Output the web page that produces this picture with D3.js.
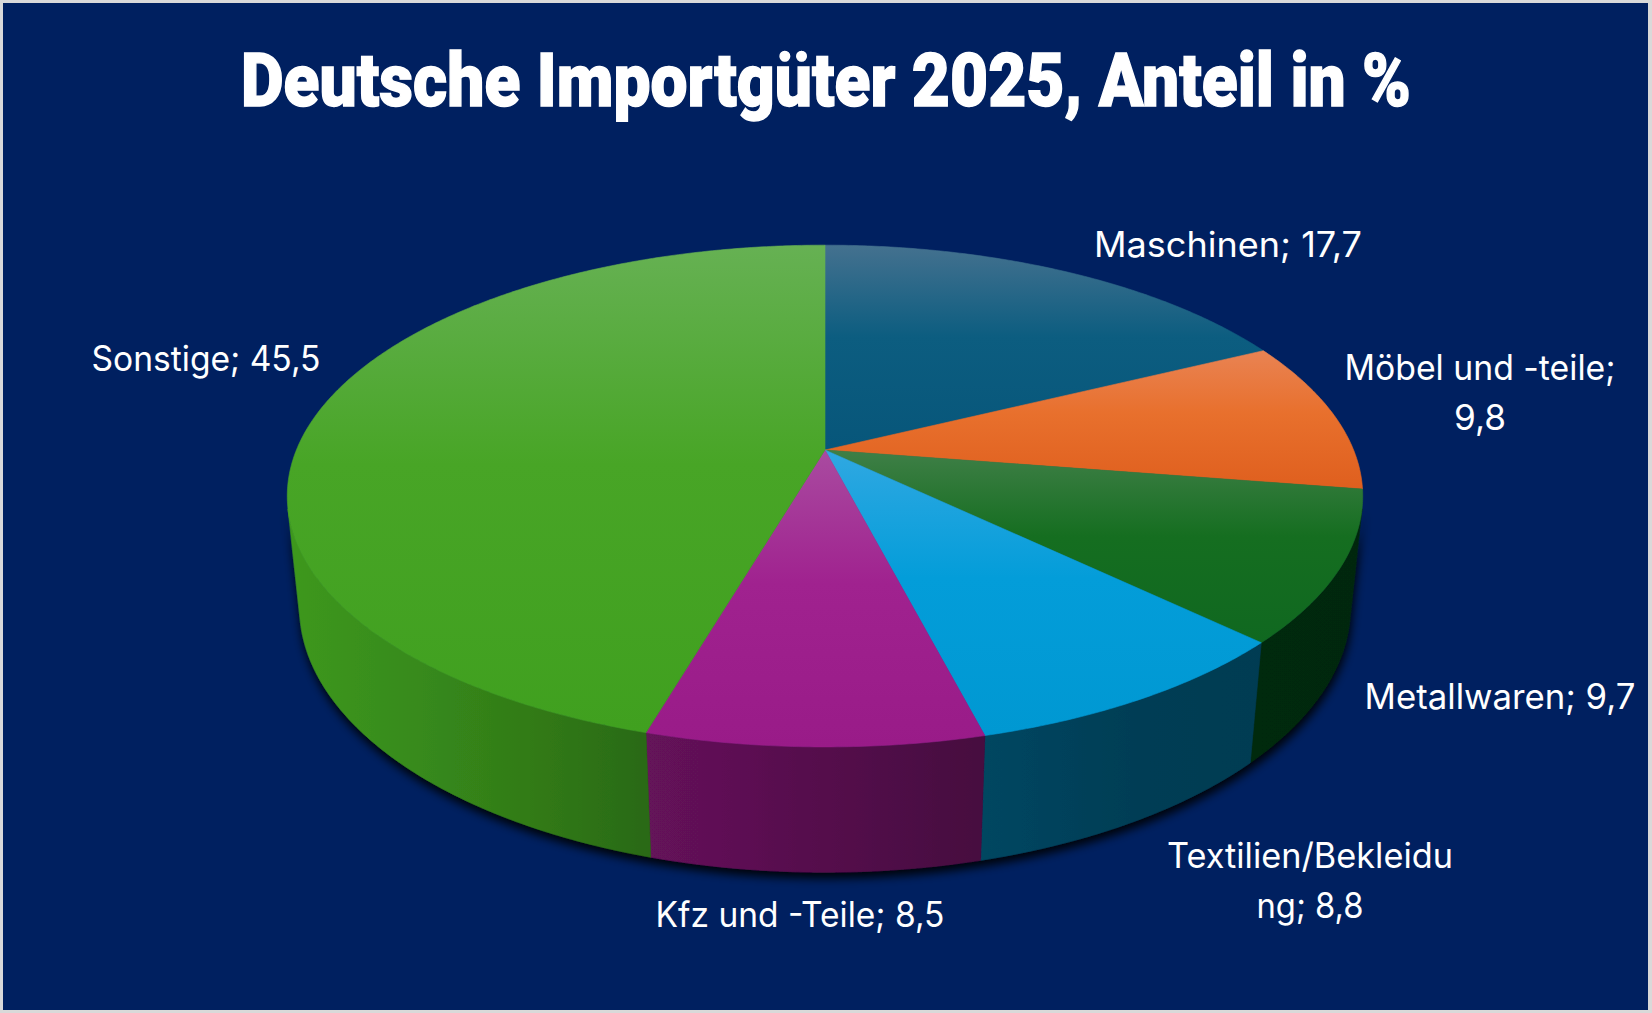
<!DOCTYPE html>
<html><head><meta charset="utf-8">
<script src="https://cdn.jsdelivr.net/npm/d3@7"></script>
<style>html,body{margin:0;padding:0;background:#d9d9d9;overflow:hidden}</style>
</head><body><svg id="c" width="1652" height="1013"></svg>
<script>
// ---- data ----
const title = "Deutsche Importgüter 2025, Anteil in %";
const categories = ["Maschinen", "Möbel und -teile", "Metallwaren", "Textilien/Bekleidung", "Kfz und -Teile", "Sonstige"];
const values = [17.7, 9.8, 9.7, 8.8, 8.5, 45.5];
const lineBreaks = [null, 17, null, 18, null, null]; // where the original label text wraps

// ---- styles ----
const topLight = ["#44718F", "#E98353", "#3F7F47", "#30A8E2", "#A94BA0", "#66B153"];
const topMid   = ["#0C5D80", "#E8702D", "#156E20", "#039DD9", "#A0228F", "#48A526"];
const topDark  = ["#07567A", "#DF5F1E", "#106820", "#0098D2", "#991B88", "#40A01F"];
// label layout: [center x, first baseline y]
const labelPos = [[1228, 257], [1480, 380], [1500, 709], [1310, 868], [800, 927], [206, 371]];
const labelWidths = [[268], [271, 52], [271], [286, 107], [289], [229]];

const W = 1652, Hh = 1013;
const svg = d3.select("#c");
const defs = svg.append("defs");

svg.append("rect").attr("x", 3).attr("y", 3).attr("width", W - 7).attr("height", Hh - 6).attr("fill", "#002060");

svg.append("text").attr("x", 826).attr("y", 106).attr("text-anchor", "middle")
  .attr("font-family", "Roboto, 'DejaVu Sans', sans-serif").attr("font-weight", 900)
  .attr("font-size", 75).attr("fill", "#fff").attr("stroke", "#fff").attr("stroke-width", 1.4)
  .attr("textLength", 1170).attr("lengthAdjust", "spacingAndGlyphs")
  .text(title);

// ---- 3D projection ----
const cx = 825, cy = 450, F = 2560, Dd = 4.843;
const alpha = 27.3 * Math.PI / 180, sa = Math.sin(alpha), ca = Math.cos(alpha);
const depth = 0.238;
function proj(a, r, z) {
  const X = r * Math.sin(a), Y = r * Math.cos(a);
  const d = Dd + Y * ca - z * sa;
  return [cx + F * X / d, cy - F * (Y * sa + z * ca) / d];
}
const pie = d3.pie().sort(null).value(d => d)(values);
const line = d3.line();
function arcPts(a0, a1, z) {
  const n = Math.max(2, Math.ceil(Math.abs(a1 - a0) / (Math.PI / 360)));
  const pts = [];
  for (let i = 0; i <= n; i++) pts.push(proj(a0 + (a1 - a0) * i / n, 1, z));
  return pts;
}

// side shading as function of screen x
const shade = d3.scaleLinear().domain([288, 420, 550, 645, 985, 1150, 1364]).range([0.95, 0.86, 0.75, 0.66, 0.46, 0.40, 0.38]).clamp(true);
const xL = 288, xR = 1364;

// visible side range: cos(a) < -1/(D*cos(alpha))
const limit = Math.acos(-1 / (Dd * ca));
const visA0 = limit, visA1 = 2 * Math.PI - limit;

const sideG = svg.append("g").attr("filter", "url(#shadow)");
const f = defs.append("filter").attr("id", "shadow").attr("x", "-10%").attr("y", "-20%").attr("width", "120%").attr("height", "150%");
f.append("feDropShadow").attr("dx", 1).attr("dy", 6).attr("stdDeviation", 5).attr("flood-color", "#000").attr("flood-opacity", 0.9);

pie.forEach((p, i) => {
  const a0 = Math.max(p.startAngle, visA0), a1 = Math.min(p.endAngle, visA1);
  if (a1 <= a0) return;
  const base = d3.rgb(topDark[i]);
  const g = defs.append("linearGradient").attr("id", "side" + i).attr("gradientUnits", "userSpaceOnUse")
    .attr("x1", xL).attr("x2", xR).attr("y1", 0).attr("y2", 0);
  shade.domain().forEach((x, k) => {
    const m = shade.range()[k];
    g.append("stop").attr("offset", (x - xL) / (xR - xL))
      .attr("stop-color", d3.rgb(base.r * m, base.g * m, base.b * m).formatHex());
  });
  const pts = arcPts(a0, a1, 0).concat(arcPts(a1, a0, -depth));
  sideG.append("path").attr("d", line(pts) + "Z").attr("fill", `url(#side${i})`)
    .attr("stroke", `url(#side${i})`).attr("stroke-width", 0.6);
});

// top faces
const topG = svg.append("g");
pie.forEach((p, i) => {
  const g = defs.append("linearGradient").attr("id", "top" + i).attr("x1", 0).attr("y1", 0).attr("x2", 0).attr("y2", 1);
  g.append("stop").attr("offset", 0).attr("stop-color", topLight[i]);
  g.append("stop").attr("offset", 0.45).attr("stop-color", topMid[i]);
  g.append("stop").attr("offset", 1).attr("stop-color", topDark[i]);
  const pts = [proj(0, 0, 0)].concat(arcPts(p.startAngle, p.endAngle, 0));
  topG.append("path").attr("d", line(pts) + "Z").attr("fill", `url(#top${i})`)
    .attr("stroke", `url(#top${i})`).attr("stroke-width", 0.6).attr("stroke-linejoin", "round");
});

// labels
const fmt = v => d3.format(".1f")(v).replace(".", ",");
const labG = svg.append("g").attr("font-family", "Inter, 'Open Sans', sans-serif").attr("font-size", 35).attr("fill", "#fff").attr("text-anchor", "middle");
categories.forEach((c, i) => {
  const full = `${c}; ${fmt(values[i])}`;
  const lines = lineBreaks[i] == null ? [full] : [full.slice(0, lineBreaks[i]), full.slice(lineBreaks[i]).trim()];
  lines.forEach((t, k) => {
    labG.append("text").attr("x", labelPos[i][0]).attr("y", labelPos[i][1] + k * 50)
      .attr("textLength", labelWidths[i][k]).attr("lengthAdjust", "spacingAndGlyphs").text(t);
  });
});
</script></body></html>
